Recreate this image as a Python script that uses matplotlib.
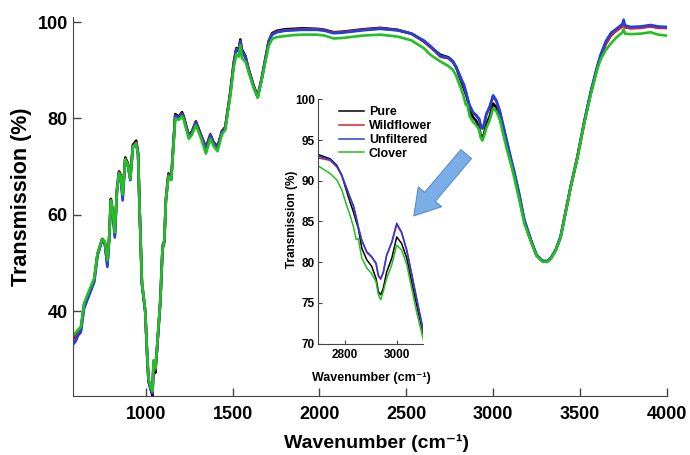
import matplotlib
matplotlib.use("Agg")
import matplotlib.pyplot as plt
from matplotlib.patches import FancyArrowPatch

plt.rcParams['font.family'] = ['Liberation Sans', 'DejaVu Sans']
plt.rcParams['font.weight'] = 'bold'

# wavenumbers (cm-1), shared by all four spectra
wavenumber = [585, 596, 610, 625, 644, 673, 702, 721, 748, 763, 778, 788, 798, 808, 821, 833,
              845, 855, 866, 881, 896, 910, 925, 944, 955, 963, 977, 996, 1006, 1015, 1029,
              1038, 1044, 1054, 1063, 1083, 1096, 1106, 1115, 1130, 1146, 1169, 1190, 1208,
              1217, 1247, 1265, 1288, 1313, 1346, 1371, 1391, 1413, 1438, 1457, 1486, 1506,
              1521, 1535, 1544, 1553, 1573, 1592, 1621, 1644, 1669, 1688, 1707, 1727, 1755,
              1800, 1850, 1900, 1986, 2030, 2081, 2130, 2250, 2350, 2450, 2530, 2600, 2640,
              2697, 2742, 2768, 2787, 2804, 2819, 2832, 2843, 2851, 2865, 2884, 2903, 2920,
              2929, 2938, 2948, 2961, 2981, 3000, 3019, 3039, 3058, 3077, 3103, 3120, 3149,
              3180, 3216, 3250, 3284, 3310, 3331, 3360, 3389, 3447, 3486, 3524, 3562, 3601,
              3620, 3649, 3680, 3710, 3745, 3752, 3760, 3793, 3850, 3908, 3950, 4000]

pure = [34.2, 34.8, 35.8, 36.4, 41.4, 44.0, 46.6, 51.8, 55.0, 54.4, 50.0, 55.0, 63.3, 61.0, 56.0, 65.2,
        69.0, 68.3, 64.0, 71.9, 70.7, 67.8, 74.5, 75.4, 72.9, 62.0, 45.8, 40.0, 31.8, 25.6, 23.6,
        22.5, 29.5, 27.2, 31.5, 42.0, 53.6, 54.6, 63.2, 68.6, 67.6, 80.9, 80.4, 81.3,
        80.5, 76.5, 77.3, 79.4, 77.0, 74.0, 76.7, 75.0, 74.2, 77.4, 78.2, 85.4, 91.6,
        94.6, 94.3, 96.4, 94.3, 93.0, 90.2, 86.8, 84.6, 88.7, 92.3, 96.0, 97.7, 98.2,
        98.5, 98.6, 98.7, 98.6, 98.4, 97.9, 98.0, 98.5, 98.8, 98.4, 97.6, 96.0, 94.8,
        93.2, 92.7, 91.9, 90.7, 88.9, 87.4, 86.2, 85.0, 84.2, 81.7, 80.3, 79.5, 78.0,
        76.4, 76.0, 76.8, 78.8, 80.5, 83.1, 82.3, 80.5, 77.6, 74.8, 71.1, 68.6, 64.0,
        58.6, 54.8, 51.6, 50.4, 50.3, 50.9, 52.6, 55.4, 65.8, 72.0, 79.0, 85.2, 90.7,
        92.8, 95.5, 97.3, 98.3, 99.2, 99.6, 99.0, 98.8, 98.9, 99.2, 98.9, 98.8]

wildflower = [33.8, 34.4, 35.5, 36.0, 41.0, 43.7, 46.3, 51.7, 54.8, 54.2, 49.6, 54.8, 63.0, 60.8, 55.7, 65.0,
              68.8, 68.0, 63.6, 71.6, 70.4, 67.4, 74.2, 75.0, 72.6, 62.0, 45.8, 40.0, 31.8, 25.6, 23.8,
              23.0, 29.5, 27.8, 31.7, 42.0, 53.2, 54.4, 63.0, 68.4, 67.4, 80.6, 80.2, 81.0,
              80.3, 76.3, 77.1, 79.2, 76.8, 73.8, 76.5, 74.8, 74.0, 77.2, 78.0, 85.2, 91.4,
              94.4, 94.0, 96.0, 94.0, 92.8, 90.0, 86.6, 84.5, 88.6, 92.2, 95.9, 97.5, 98.0,
              98.3, 98.4, 98.5, 98.5, 98.3, 97.8, 97.9, 98.4, 98.7, 98.3, 97.6, 96.1, 94.8,
              92.8, 92.5, 91.7, 90.6, 89.2, 87.9, 86.9, 85.5, 84.3, 82.6, 81.2, 80.6, 79.8,
              78.3, 77.9, 78.7, 80.8, 82.4, 84.6, 83.6, 81.4, 78.5, 75.5, 71.4, 69.0, 64.4,
              58.8, 54.9, 51.6, 50.4, 50.3, 50.9, 52.6, 55.4, 65.8, 72.0, 79.0, 85.2, 90.8,
              92.9, 95.5, 97.3, 98.2, 99.1, 99.5, 98.9, 98.7, 98.8, 99.1, 98.8, 98.8]

unfiltered = [33.3, 33.8, 35.0, 35.6, 40.6, 43.3, 46.0, 51.5, 54.7, 54.0, 49.2, 54.6, 62.8, 60.6, 55.3, 64.8,
              68.6, 67.8, 63.0, 71.4, 70.2, 67.2, 74.0, 74.8, 72.4, 62.0, 45.8, 40.0, 31.8, 25.4, 23.6,
              23.0, 29.5, 28.0, 31.8, 42.0, 52.8, 54.2, 62.8, 68.2, 67.3, 80.5, 80.1, 80.9,
              80.2, 76.2, 77.0, 79.1, 76.7, 73.6, 76.4, 74.7, 73.9, 77.1, 77.9, 85.1, 91.3,
              94.3, 93.9, 95.9, 93.9, 92.7, 89.9, 86.5, 84.4, 88.5, 92.1, 95.8, 97.4, 97.9,
              98.2, 98.3, 98.4, 98.4, 98.2, 97.7, 97.8, 98.3, 98.6, 98.3, 97.6, 96.2, 95.0,
              93.0, 92.6, 91.8, 90.7, 89.3, 88.0, 87.0, 85.6, 84.4, 82.7, 81.3, 80.7, 79.9,
              78.4, 78.0, 78.8, 80.9, 82.5, 84.8, 83.7, 81.5, 78.6, 75.6, 71.7, 69.3, 64.6,
              59.0, 55.0, 51.7, 50.5, 50.4, 51.0, 52.7, 55.5, 65.9, 72.1, 79.2, 85.5, 91.0,
              93.3, 96.0, 97.8, 98.6, 99.6, 100.5, 99.3, 99.0, 99.1, 99.4, 99.1, 99.0]

clover = [35.0, 35.6, 36.2, 36.7, 41.6, 44.3, 46.8, 52.0, 54.9, 54.4, 50.5, 55.0, 63.0, 61.0, 56.3, 65.0,
          68.6, 68.0, 64.2, 71.5, 70.4, 67.5, 74.1, 74.8, 72.5, 62.0, 46.0, 40.2, 32.0, 26.0, 24.2,
          23.4, 29.8, 28.2, 32.0, 42.3, 53.3, 54.4, 63.0, 68.0, 67.2, 80.0, 79.7, 80.5,
          79.8, 75.8, 76.6, 78.6, 76.3, 72.7, 75.8, 74.2, 73.2, 76.7, 77.6, 84.6, 90.6,
          93.3, 92.8, 95.2, 92.5, 91.8, 89.6, 86.3, 84.3, 88.3, 91.6, 95.0, 96.5, 96.9,
          97.1, 97.3, 97.4, 97.4, 97.2, 96.6, 96.7, 97.2, 97.4, 97.0, 96.2, 94.6, 93.2,
          91.8, 90.9, 90.1, 88.9, 87.2, 85.8, 84.4, 82.8, 82.9, 80.5, 79.3, 78.6, 77.6,
          76.0, 75.4, 76.4, 78.0, 79.7, 82.1, 81.5, 79.7, 76.8, 73.9, 70.5, 68.0, 63.4,
          58.2, 54.6, 51.5, 50.3, 50.2, 50.8, 52.5, 55.3, 65.7, 71.9, 78.8, 84.9, 90.3,
          92.3, 94.2, 95.6, 96.8, 97.9, 98.5, 97.6, 97.5, 97.6, 97.9, 97.4, 97.2]

labels = ['Pure', 'Wildflower', 'Unfiltered', 'Clover']
colors = ['#000000', '#e0202c', '#2040e0', '#22c022']
series = [pure, wildflower, unfiltered, clover]

fig = plt.figure(figsize=(6.9, 4.55), dpi=100)
ax = fig.add_axes([0.1063, 0.1297, 0.8599, 0.8323])
for s, c, lab in zip(series, colors, labels):
    ax.plot(wavenumber, s, color=c, lw=1.9, label=lab)

ax.set_xlim(582, 4000)
ax.set_ylim(22.4, 101)
ax.set_xticks([1000, 1500, 2000, 2500, 3000, 3500, 4000])
ax.set_yticks([40, 60, 80, 100])
ax.spines['top'].set_visible(False)
ax.spines['right'].set_visible(False)
for sp in ['left', 'bottom']:
    ax.spines[sp].set_color('#444444')
ax.tick_params(direction='in', length=6, width=1, color='#444444', labelsize=13)
ax.tick_params(axis='x', pad=7)
ax.tick_params(axis='y', pad=4)

fig.text(21.5 / 690, 1 - 197 / 455, 'Transmission (%)', rotation=90, ha='center', va='center',
         fontsize=15.5, fontweight='bold')
fig.text(376 / 690, 1 - 443 / 455, 'Wavenumber (cm\u207b\u00b9)', ha='center', va='center',
         fontsize=14, fontweight='bold')

# zoomed inset on the C-H stretch region
axi = fig.add_axes([317.7 / 690, 1 - 343.7 / 455, 105.6 / 690, 244.4 / 455])
axi.set_facecolor('none')
for s, c, lab in zip(series, colors, labels):
    axi.plot(wavenumber, s, color=c, lw=1.1, label=lab)
axi.set_xlim(2694, 3103)
axi.set_ylim(70, 100)
axi.set_xticks([2800, 3000])
axi.set_yticks([70, 75, 80, 85, 90, 95, 100])
axi.spines['top'].set_visible(False)
axi.spines['right'].set_visible(False)
for sp in ['left', 'bottom']:
    axi.spines[sp].set_color('#444444')
axi.tick_params(direction='in', length=3, width=0.8, color='#444444', labelsize=8.5)
axi.tick_params(axis='x', pad=4)
axi.tick_params(axis='y', pad=2)
axi.legend(loc='upper left', bbox_to_anchor=(0.2, 0.972), frameon=False, fontsize=9,
           handlelength=2.0, handletextpad=0.4, labelspacing=0.15, borderpad=0, borderaxespad=0)

fig.text(291.7 / 690, 1 - 219 / 455, 'Transmission (%)', rotation=90, ha='center', va='center',
         fontsize=8.5, fontweight='bold')
fig.text(371 / 690, 1 - 378 / 455, 'Wavenumber (cm\u207b\u00b9)', ha='center', va='center',
         fontsize=9, fontweight='bold')

arrow = FancyArrowPatch((468 / 690, 1 - 152 / 455), (412 / 690, 1 - 218 / 455),
                        transform=fig.transFigure,
                        arrowstyle='simple,head_length=1.8,head_width=2.2,tail_width=1.0',
                        mutation_scale=10, facecolor='#7aaee6', edgecolor='#5b8dcb', lw=0.8)
fig.patches.append(arrow)

fig.savefig('out.png', dpi=100)
